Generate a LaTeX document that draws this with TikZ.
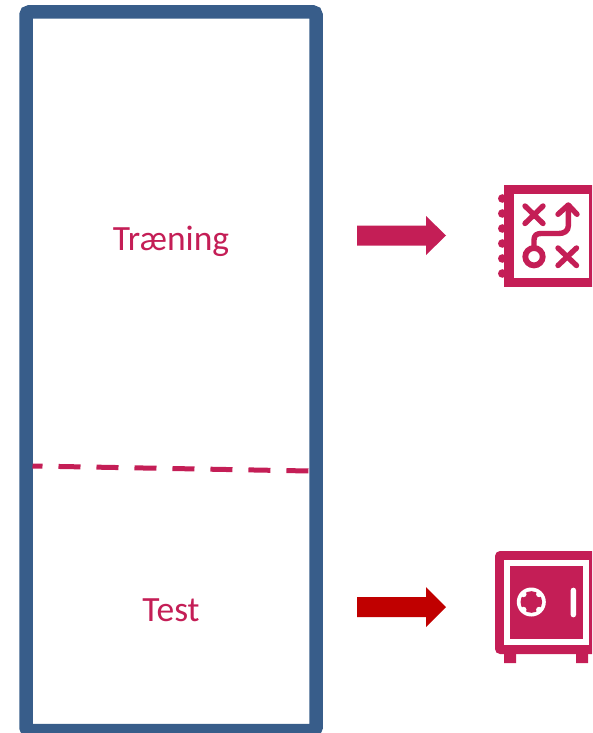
\documentclass[tikz,border=0pt]{standalone}
\usepackage{fontspec}
\setmainfont{Carlito}
\usetikzlibrary{calc,positioning}
\definecolor{framecol}{HTML}{385D8A}
\definecolor{pinkcol}{HTML}{C41E56}
\definecolor{redcol}{HTML}{C00000}
\tikzset{
  parttext/.style={text=pinkcol,font=\fontsize{35.5}{40}\selectfont,inner sep=0pt,anchor=base},
  iconline/.style={draw=pinkcol,line width=5.4pt,line cap=round,line join=round},
}
\begin{document}
\begin{tikzpicture}[x=1pt,y=-1pt]
\useasboundingbox (0,0) rectangle (592,733);

% frame
\draw[framecol,line width=13.5pt,rounded corners=3pt] (26,12) rectangle (316,730.5);
\draw[pinkcol,line width=5pt,dash pattern=on 22pt off 16pt,dash phase=12pt] (32.5,466) -- (309.5,471);

\node[parttext] (train) at (171,250.5) {Træning};
\node[parttext] (test) at (171,621.5) {Test};

% arrows
\fill[pinkcol] (357,225.5) -- (426,225.5) -- (426,216) -- (446,235.5) -- (426,255) -- (426,245.5) -- (357,245.5) -- cycle;
\fill[redcol] (357,597) -- (426,597) -- (426,587) -- (446,607) -- (426,627) -- (426,617) -- (357,617) -- cycle;

% plan icon
\begin{scope}
\clip (0,0) rectangle (592,733);
\fill[pinkcol] (504,184.5) rectangle (600,286.5);
\fill[white] (513.5,193.5) rectangle (588.5,277.5);
\foreach \y in {198.5,213.5,228.5,243.5,258.5,273.5}
  \fill[pinkcol] (502.3,\y) circle (4.3pt);
\draw[iconline] (525,206) -- (543,223.5) (543,206) -- (525,223.5);
\draw[iconline] (558,248) -- (576.5,265.5) (576.5,248) -- (558,265.5);
\draw[pinkcol,line width=5.8pt] (534,256.7) circle (8.7pt);
\draw[iconline] (534,247) -- (534,240) .. controls (534,235) and (537,233.5) .. (541,233.5) -- (559,233.5) .. controls (564,233.5) and (568.3,231) .. (568.3,226) -- (568.3,206);
\draw[iconline] (558,214.3) -- (568.3,205) -- (577,214.3);
\end{scope}

% safe icon
\begin{scope}
\clip (0,0) rectangle (592,733);
\fill[pinkcol,rounded corners=5pt] (495,551) rectangle (610,654);
\fill[pinkcol] (504,654) rectangle (516,663) (576,654) rectangle (588,663);
\fill[white] (504,560) rectangle (589,645);
\fill[pinkcol] (510,566) rectangle (582.7,638.7);
\fill[white] (531.3,602) circle (14.5pt);
\fill[pinkcol] (531.3,602) circle (10.8pt);
\foreach \a in {45,135,225,315}
  \fill[white] (531.3,602) ++(\a:11pt) circle (3pt);
\fill[white,rounded corners=2.5pt] (570.7,587.7) rectangle (576,617.3);
\end{scope}
\end{tikzpicture}
\end{document}
